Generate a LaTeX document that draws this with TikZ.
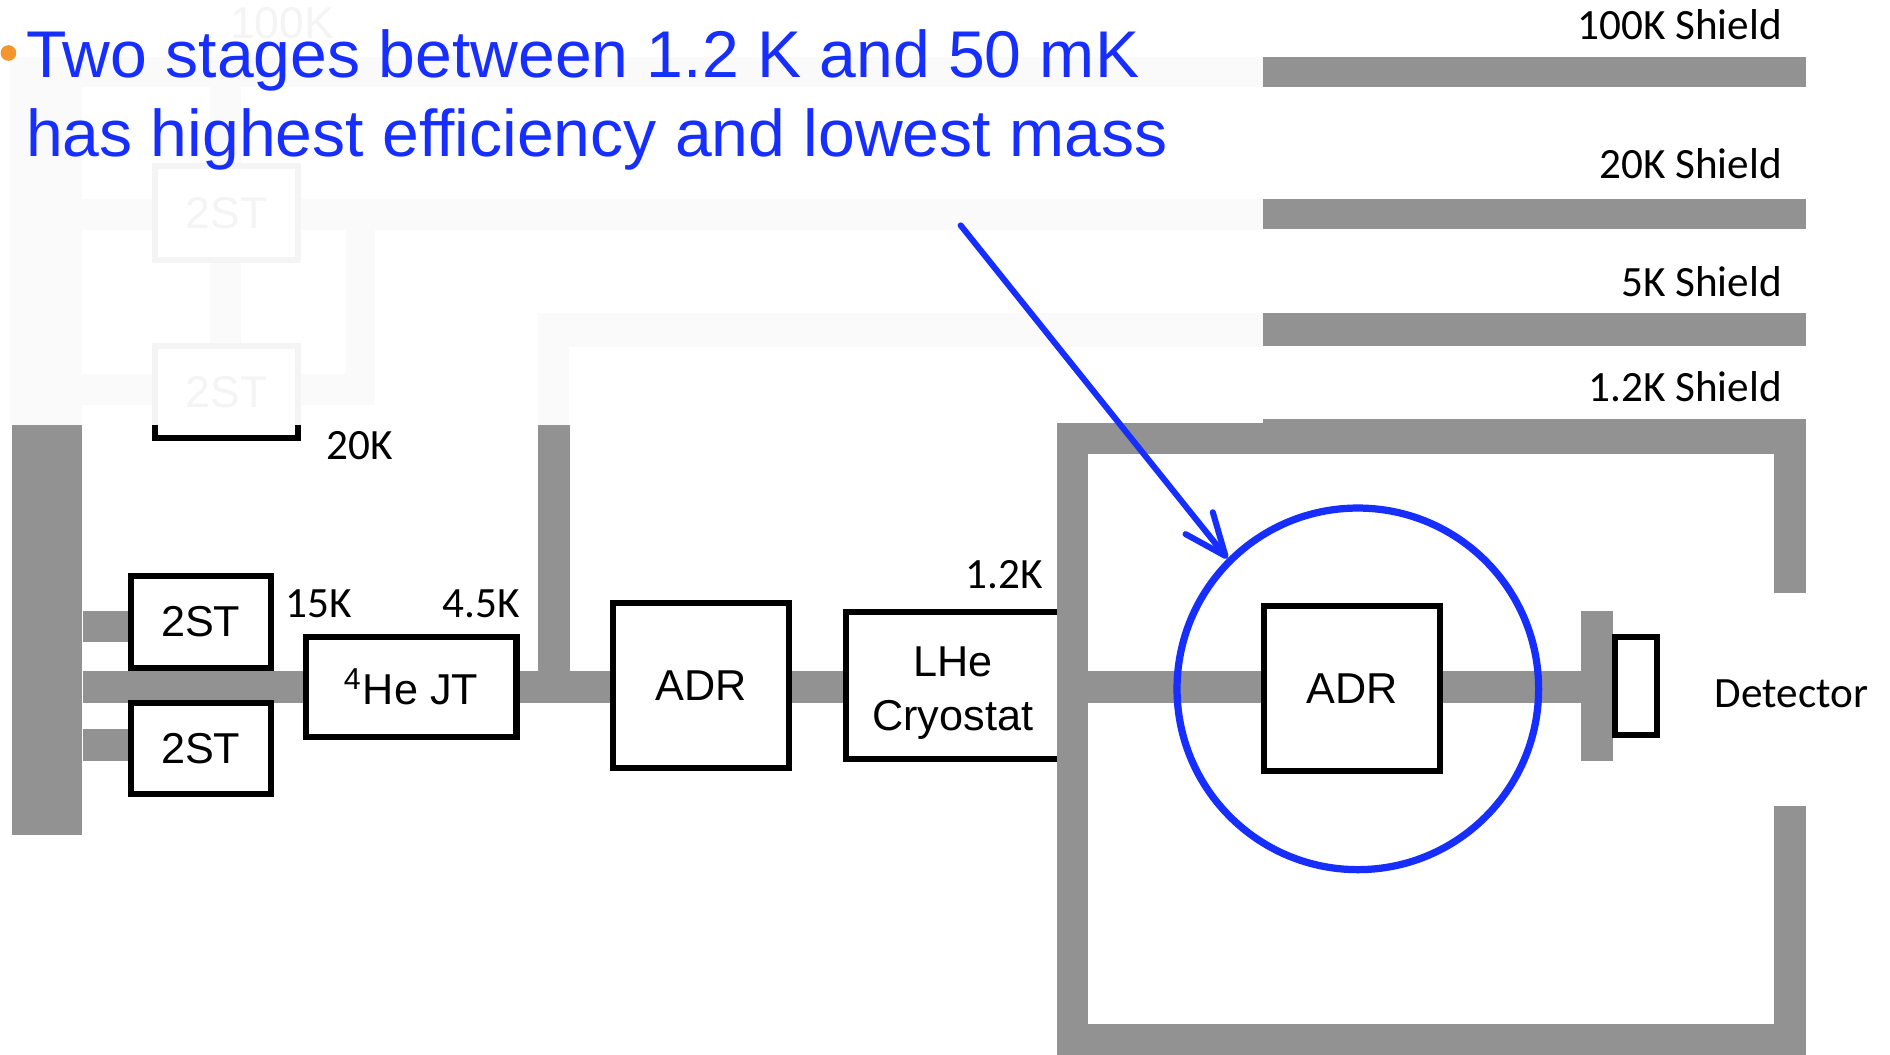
\documentclass[tikz,border=0pt]{standalone}
\usepackage{fontspec}
\setmainfont{Liberation Sans}
\newfontfamily\calib{Carlito}
\usepackage{tikz}
\usetikzlibrary{arrows.meta,backgrounds}

\definecolor{bargray}{RGB}{146,146,146}
\definecolor{ghostfill}{RGB}{250,250,250}
\definecolor{ghostline}{RGB}{244,244,244}
\definecolor{hiblue}{RGB}{22,46,255}
\definecolor{dotorange}{RGB}{245,150,45}

\begin{document}
\begin{tikzpicture}[
    x=0.1mm, y=-0.1mm,
    stage/.style={draw, line width=0.5mm, fill=white, inner sep=0pt, align=center,
        font=\fontsize{10.2}{12.6}\selectfont},
    ghostbox/.style={draw=ghostline, line width=0.5mm, fill=white, inner sep=0pt,
        text=ghostline, font=\fontsize{10.5}{12}\selectfont},
    slab/.style={fill=bargray, inner sep=0pt},
    link/.style={draw=bargray, line width=2.6mm},
    templabel/.style={inner sep=0pt, font=\calib\fontsize{10.2}{12}\selectfont},
    headline/.style={inner sep=0pt, anchor=base west, text=hiblue,
        font=\fontsize{15.6}{18.8}\selectfont},
    pointer/.style={draw=hiblue, line width=0.5mm, line cap=round,
        -{Straight Barb[length=3.5mm, width=2.9mm, round]}}
]
\useasboundingbox (0,0) rectangle (1568,875);

% stages on the cold chain
\node[slab, minimum width=5.8mm, minimum height=34mm] (cold) at (39,523) {};
\node[stage, minimum width=11.6mm, minimum height=7.6mm] (st1) at (166.5,516) {2ST};
\node[stage, minimum width=11.6mm, minimum height=7.6mm] (st2) at (166.5,621) {2ST};
\node[stage, minimum width=17.5mm, minimum height=8.3mm] (jt) at (341,570) {\textsuperscript{4}He JT};
\node[stage, minimum width=14.6mm, minimum height=13.7mm] (adr1) at (581.5,569) {ADR};
\node[stage, minimum width=17.8mm, minimum height=12.2mm] (lhe) at (790.5,568.5) {\rule{0pt}{3.8mm}LHe\\Cryostat};
\node[stage, minimum width=14.6mm, minimum height=13.7mm] (adr2) at (1121.5,571) {ADR};
\node[slab, minimum width=2.6mm, minimum height=12.4mm] (mount) at (1325,569) {};
\node[stage, minimum width=3.5mm, minimum height=8.1mm] (det) at (1357,569) {};

\coordinate (hi) at (0,520);
\coordinate (bus) at (0,570);
\coordinate (lo) at (0,618);
\coordinate (riser) at (459.5,353);

\begin{scope}[on background layer]
\fill[white] (0,0) rectangle (1568,875);
\fill[ghostfill] (8,47) rectangle (1048,72);
\fill[ghostfill] (8,47) rectangle (68,353);
\fill[ghostfill] (68,165) rectangle (1048,191);
\fill[ghostfill] (174,72) rectangle (200,135);
\fill[ghostfill] (174,218) rectangle (200,285);
\fill[ghostfill] (287,191) rectangle (311,336);
\fill[ghostfill] (68,310) rectangle (311,336);
\fill[ghostfill] (446,260) rectangle (1048,288);
\fill[ghostfill] (446,260) rectangle (472,353);
\node[ghostbox, minimum width=11.9mm, minimum height=7.8mm] (gst1) at (188,176.5) {2ST};
\node[ghostbox, minimum width=11.9mm, minimum height=7.6mm] (gst2) at (188,325) {2ST};
\node[inner sep=0pt, text=ghostline, font=\fontsize{10.5}{12}\selectfont] (g100) at (234,19) {100K};

\draw[link] (cold.east |- hi) -- (st1.west |- hi);
\draw[link] (cold.east |- lo) -- (st2.west |- lo);
\draw[link] (cold.east |- bus) -- (jt.west |- bus);
\draw[link] (jt.east |- bus) -- (adr1.west |- bus);
\draw[link] (riser) -- (riser |- bus);
\draw[link] (adr1.east |- bus) -- (lhe.west |- bus);
\draw[link] (lhe.east |- bus) -- (adr2.west |- bus);
\draw[link] (adr2.east |- bus) -- (mount.west |- bus);
\end{scope}

% shields
\fill[bargray] (1048,47) rectangle (1498,72);
\fill[bargray] (1048,165) rectangle (1498,190);
\fill[bargray] (1048,260) rectangle (1498,287);
\fill[bargray] (1048,348) rectangle (1498,364);
\draw[bargray, line width=2.6mm] (1485,492) -- (1485,364) -- (890,364) -- (890,862.5)
    -- (1485,862.5) -- (1485,669);
\draw[line width=0.5mm] (128.5,353) -- (128.5,363.5) -- (247.5,363.5) -- (247.5,353);

\node[templabel, anchor=base east] (s100) at (1479,33) {100K Shield};
\node[templabel, anchor=base east] (s20) at (1479,148) {20K Shield};
\node[templabel, anchor=base east] (s5) at (1479,246) {5K Shield};
\node[templabel, anchor=base east] (s12) at (1479,333) {1.2K Shield};
\node[templabel, anchor=base west] (t20) at (270,381) {20K};
\node[templabel, anchor=base west] (t15) at (236,512) {15K};
\node[templabel, anchor=base east] (t45) at (432,512) {4.5K};
\node[templabel, anchor=base east] (t12) at (866,488) {1.2K};
\node[templabel, anchor=base west] (tdet) at (1422,587) {Detector};

% callout
\node[circle, draw=hiblue, line width=0.6mm, minimum size=30mm, inner sep=0pt] (focus) at (1126.5,571.5) {};
\coordinate (callout) at (797,187);
\draw[pointer] (callout) -- (focus.135);
\node[circle, fill=dotorange, inner sep=0pt, minimum size=1.3mm] (dot) at (7,44) {};
\node[headline] (title1) at (21,64) {Two stages between 1.2 K and 50 mK};
\node[headline] (title2) at (21,130) {has highest efficiency and lowest mass};
\end{tikzpicture}
\end{document}
